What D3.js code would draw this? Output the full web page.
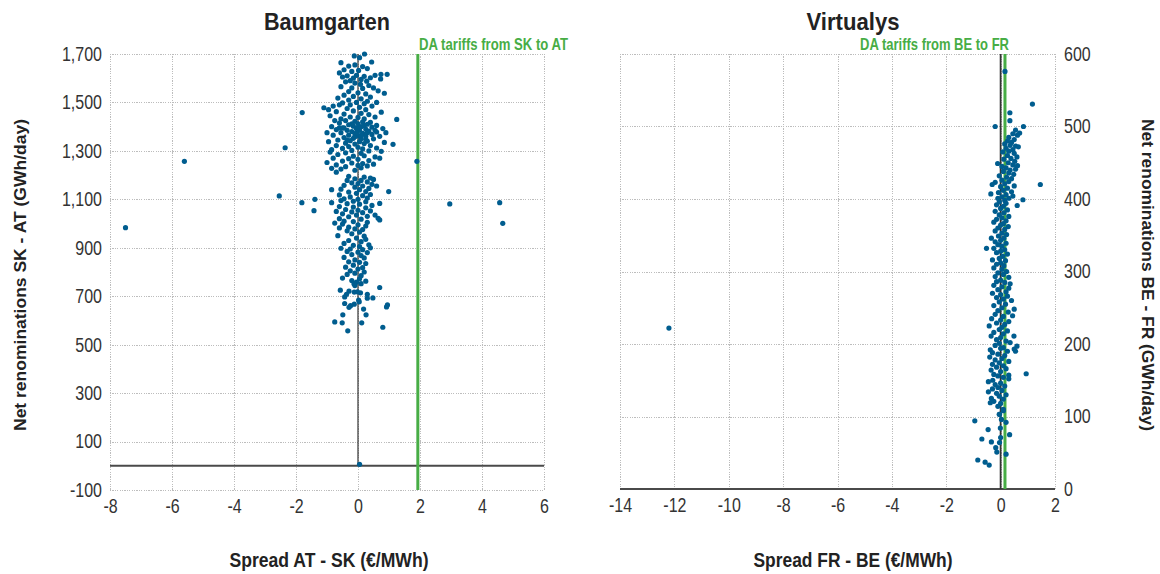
<!DOCTYPE html>
<html>
<head>
<meta charset="utf-8">
<script src="https://cdn.jsdelivr.net/npm/d3@7/dist/d3.min.js"></script>
<style>
  html, body { margin: 0; padding: 0; background: #fff; }
  svg { display: block; }
</style>
</head>
<body>
<svg id="chart" width="1160" height="574"></svg>
<script>
// ---- Baumgarten: spread AT - SK (€/MWh) vs net renominations SK - AT (GWh/day)
const baumgartenTitle = "Baumgarten";
const baumgartenXTitle = "Spread AT - SK (€/MWh)";
const baumgartenYTitle = "Net renominations SK - AT (GWh/day)";
const baumgartenTariffLabel = "DA tariffs from SK to AT";
const baumgartenTariff = 1.93;
const baumgartenXTicks = [-8, -6, -4, -2, 0, 2, 4, 6];
const baumgartenYTicks = [-100, 100, 300, 500, 700, 900, 1100, 1300, 1500, 1700];
const baumgartenPoints = [
  // outliers
  [-7.5,983],[-5.6,1257],[-2.35,1313],[-2.54,1114],[-1.8,1458],[-1.81,1086],[-1.39,1100],[-1.42,1053],
  [1.9,1257],[2.96,1081],[4.57,1086],[4.67,1001],[1.13,1327],[0.05,6],
  // 1600 - 1700
  [-0.12,1692],[0.21,1700],[0.05,1685],[-0.55,1664],[0.44,1667],[-0.3,1650],[-0.1,1655],[0.15,1648],
  [0.3,1640],[-0.45,1635],[-0.2,1628],[0.02,1632],[-0.6,1622],[0.74,1616],[0.94,1616],[0.73,1597],
  [-0.35,1610],[-0.05,1612],[0.2,1608],[0.4,1602],[-0.15,1600],[0.1,1595],[-0.5,1605],[0.55,1612],
  [-0.25,1590],[0.28,1588],
  // 1500 - 1600
  [-0.4,1585],[-0.1,1580],[0.08,1575],[0.35,1570],[-0.55,1565],[-0.2,1560],[0.15,1558],[0.5,1560],
  [0.65,1548],[-0.3,1545],[0.0,1540],[0.25,1535],[-0.45,1530],[0.85,1538],[-0.15,1525],[0.4,1522],
  [-0.65,1518],[0.1,1515],[-0.3,1510],[0.3,1505],[-0.05,1500],[0.6,1500],[-0.5,1498],[0.2,1495],
  [-0.25,1490],
  // 1430 - 1500
  [-1.1,1478],[-0.8,1485],[-0.6,1490],[-0.95,1470],[0.45,1485],[0.05,1480],[-0.35,1475],[0.25,1470],
  [-0.7,1462],[-0.15,1465],[0.75,1460],[0.1,1455],[-0.45,1452],[0.35,1450],[-0.9,1445],[-0.25,1440],
  [0.55,1440],[0.0,1438],[1.25,1430],[-0.55,1432],[0.2,1432],
  // 1300 - 1430
  [-0.75,1425],[-0.4,1425],[-0.1,1422],[0.15,1420],[0.4,1418],[-0.6,1415],[0.0,1412],[0.3,1410],
  [-0.3,1408],[0.6,1405],[-0.85,1400],[-0.15,1402],[0.1,1400],[0.45,1398],[-0.5,1395],[-0.05,1392],
  [0.25,1390],[0.8,1392],[-0.7,1388],[-0.35,1385],[0.05,1385],[0.35,1382],[-0.2,1380],[0.6,1378],
  [0.9,1375],[-1.0,1375],[-0.55,1375],[0.15,1372],[-0.1,1370],[0.45,1368],[-0.8,1365],[-0.3,1365],
  [0.0,1362],[0.25,1360],[0.7,1360],[-0.45,1355],[-0.15,1352],[0.1,1350],[0.5,1350],[-0.65,1345],
  [-0.25,1342],[0.3,1340],[-0.95,1338],[0.05,1338],[0.85,1335],[-0.4,1332],[0.2,1330],[-0.1,1328],
  [-0.7,1322],[0.4,1322],[-0.3,1318],[0.0,1315],[0.6,1312],[-0.5,1310],[0.15,1308],[-0.85,1305],
  [-0.2,1302],[0.35,1300],[0.75,1298],[-0.2,1412],[0.2,1405],[-0.45,1395],[0.3,1375],[-0.1,1358],
  [0.55,1385],[-0.6,1395],[0.1,1365],[-0.35,1345],[0.25,1348],[0.0,1395],[-0.05,1375],
  // 1200 - 1300
  [-0.9,1295],[-0.4,1292],[0.1,1290],[-0.65,1285],[0.2,1280],[-0.15,1278],[0.55,1275],[-0.8,1270],
  [-0.3,1268],[0.0,1265],[0.7,1270],[-0.5,1258],[0.35,1260],[-1.0,1252],[-0.2,1250],[0.15,1248],
  [0.5,1245],[-0.7,1242],[0.0,1240],[-0.4,1235],[0.3,1238],[-0.85,1228],[-0.55,1225],[0.1,1230],
  [-0.1,1220],[-0.7,1212],
  // 1100 - 1200
  [-0.3,1195],[0.2,1192],[0.4,1188],[-0.1,1185],[0.5,1182],[-0.35,1178],[0.1,1178],[0.3,1172],
  [-0.2,1168],[0.0,1165],[0.45,1162],[-0.45,1158],[0.15,1155],[0.6,1155],[-0.1,1150],[0.35,1145],
  [-0.55,1142],[-0.85,1140],[0.05,1140],[0.25,1132],[-0.3,1130],[0.99,1132],[-0.05,1125],[0.4,1120],
  [-0.6,1118],[0.15,1115],[-0.25,1110],[0.3,1105],[-0.45,1102],[0.0,1100],
  // 1000 - 1100
  [-0.55,1095],[-0.15,1092],[0.25,1090],[-0.85,1086],[0.7,1083],[-0.35,1082],[0.05,1080],[0.45,1075],
  [-0.6,1070],[-0.15,1068],[0.25,1065],[-0.4,1058],[0.0,1055],[0.4,1052],[-0.7,1050],[-0.2,1048],
  [0.15,1045],[-0.5,1040],[0.55,1035],[-0.05,1035],[0.3,1030],[-0.3,1028],[0.65,1022],[0.7,1015],
  [-0.6,1020],[0.1,1018],[-0.45,1010],[-0.15,1008],[0.3,1005],[-0.75,1002],
  // 900 - 1000
  [-0.5,998],[0.0,995],[0.25,990],[-0.3,985],[-0.6,982],[-0.1,978],[0.15,975],[-0.35,970],
  [0.05,965],[-0.2,958],[-0.65,950],[0.2,948],[-0.05,940],[0.25,935],[-0.3,930],[0.1,925],
  [-0.45,918],[0.35,912],[-0.15,910],[0.05,905],[0.4,900],[-0.55,898],[-0.25,895],[0.15,892],
  // 750 - 900
  [-0.35,885],[0.0,882],[0.3,880],[-0.2,872],[0.1,868],[-0.45,860],[0.2,858],[-0.1,850],
  [-0.3,842],[0.05,840],[0.25,835],[-0.15,828],[-0.4,820],[0.15,818],[0.0,812],[-0.25,805],
  [0.2,800],[-0.1,795],[-0.35,790],[0.1,785],[-0.5,775],[0.05,772],[-0.2,765],[0.25,762],[-0.05,758],
  // 550 - 750
  [-0.13,752],[-0.1,744],[0.1,752],[0.7,736],[-0.57,725],[-0.29,721],[-0.12,717],[-0.02,718],
  [0.08,714],[0.3,708],[-0.37,708],[-0.43,697],[0.3,692],[0.48,693],[0.02,684],[0.04,677],
  [-0.43,670],[-0.12,667],[-0.24,661],[-0.29,654],[0.95,664],[0.92,656],[0.18,647],[-0.49,623],
  [0.26,623],[-0.75,594],[-0.51,590],[0.12,590],[0.8,572],[-0.33,557]
];

// ---- Virtualys: spread FR - BE (€/MWh) vs net renominations BE - FR (GWh/day)
const virtualysTitle = "Virtualys";
const virtualysXTitle = "Spread FR - BE (€/MWh)";
const virtualysYTitle = "Net renominations BE - FR (GWh/day)";
const virtualysTariffLabel = "DA tariffs from BE to FR";
const virtualysTariff = 0.16;
const virtualysXTicks = [-14, -12, -10, -8, -6, -4, -2, 0, 2];
const virtualysYTicks = [0, 100, 200, 300, 400, 500, 600];
const virtualysPoints = [
  [-12.2,222],
  // 500 - 600
  [0.16,576],[1.17,531],[0.34,519],[0.34,508],[-0.2,500],[0.84,500],
  // 440 - 500
  [0.7,491],[0.55,495],[0.62,488],[0.45,490],[0.3,485],[0.5,482],[0.25,480],[0.4,478],
  [0.15,476],[0.35,474],[0.55,473],[0.65,472],[0.2,470],[0.45,468],[0.3,466],[0.08,465],
  [0.5,463],[0.25,460],[0.6,458],[0.38,456],[0.12,455],[0.52,452],[0.28,450],[-0.11,449],
  [0.45,447],[0.62,446],[0.05,445],[0.2,443],[0.55,441],[0.35,440],
  // 400 - 440
  [0.1,438],[0.3,436],[0.48,434],[-0.05,432],[0.22,430],[0.4,428],[0.05,426],[-0.2,423],
  [0.3,424],[0.15,421],[-0.31,420],[1.46,420],[0.5,418],[0.0,417],[0.25,415],[0.1,412],
  [0.4,410],[-0.08,409],[-0.36,407],[0.2,406],[0.45,404],[0.05,403],[-0.1,401],[0.3,401],
  [0.82,399],[0.15,398],
  // 340 - 400
  [0.61,391],[-0.05,396],[0.2,394],[-0.15,392],[0.1,390],[0.0,387],[0.25,385],[-0.2,383],
  [0.12,381],[-0.05,378],[0.3,376],[0.05,374],[-0.15,372],[0.2,370],[-0.25,368],[0.1,366],
  [0.0,364],[0.28,362],[-0.1,360],[0.15,358],[-0.2,356],[0.05,353],[0.22,351],[-0.08,349],
  [-0.34,346],[0.12,346],[0.0,343],[-0.2,341],
  // 290 - 340
  [0.2,339],[-0.1,337],[0.05,335],[-0.52,332],[-0.25,332],[0.15,330],[0.0,328],[-0.15,326],
  [0.25,324],[0.08,321],[-0.05,318],[-0.3,316],[0.18,315],[0.0,312],[-0.15,310],[0.12,308],
  [-0.25,305],[0.05,303],[0.22,300],[-0.1,298],[0.1,296],[-0.2,293],[0.3,292],
  // 200 - 290
  [0.0,288],[-0.15,286],[0.15,285],[0.35,283],[-0.25,281],[0.05,279],[0.3,277],[-0.1,275],
  [0.2,272],[-0.3,270],[0.0,268],[0.25,266],[-0.15,264],[0.1,262],[0.4,260],[-0.05,258],
  [0.18,255],[-0.25,253],[0.5,248],[0.05,250],[0.44,239],[-0.1,246],[0.28,244],[-0.2,241],
  [0.1,238],[-0.33,235],[0.0,233],[0.3,231],[-0.15,229],[0.15,227],[-0.42,225],[0.05,223],
  [-0.05,220],[0.25,218],[-0.25,216],[0.1,214],[0.49,211],[-0.35,211],[0.0,209],[-0.15,206],
  [0.2,204],[0.35,202],[-0.05,201],[0.6,197],[0.5,193],[-0.38,192],[0.1,195],[0.55,190],
  // 120 - 200
  [-0.2,198],[0.0,194],[0.25,190],[-0.3,188],[-0.1,186],[0.15,184],[-0.4,182],[0.05,180],
  [-0.2,178],[0.3,176],[-0.05,174],[-0.3,172],[0.1,170],[-0.15,168],[0.2,166],[-0.35,164],
  [0.0,162],[0.94,159],[0.3,157],[-0.25,158],[-0.1,156],[0.3,152],[0.1,154],[-0.29,150],
  [-0.45,148],[0.0,146],[-0.2,144],[0.15,142],[-0.1,140],[-0.3,138],[0.05,136],[-0.45,134],
  [-0.15,132],[0.2,130],[-0.05,128],[-0.34,125],[0.1,124],[-0.25,121],[-0.38,119],[0.0,118],
  // 30 - 120
  [-0.1,114],[0.1,110],[0.1,108],[-0.04,103],[-0.05,103],[0.03,96],[-0.95,94],[0.2,92],
  [-0.01,84],[-0.46,82],[0.33,75],[0.0,71],[-0.69,69],[-0.34,65],[-0.04,64],[-0.18,57],
  [-0.14,51],[0.2,48],[-0.84,40],[-0.57,37],[-0.42,33]
];

const dotColor = "#005d8f";
const tariffColor = "#47ad45";
const gridColor = "#bdbdbd";
const tickColor = "#333";
const titleColor = "#222";
const baseFont = '"Liberation Sans", Arial, sans-serif';

const fmt = v => d3.format(",")(v).replace("\u2212", "-");

const svg = d3.select("#chart");

// condense text horizontally (narrow face look) by a factor, or to a fixed width
function condense(sel, factor, width) {
  sel.each(function () {
    const w = width != null ? width : this.getComputedTextLength() * factor;
    d3.select(this).attr("textLength", w).attr("lengthAdjust", "spacingAndGlyphs");
  });
}

function drawPanel(cfg) {
  const x = d3.scaleLinear().domain(cfg.xDomain).range(cfg.xRange);
  const y = d3.scaleLinear().domain(cfg.yDomain).range(cfg.yRange);
  const g = svg.append("g");
  const [x0, x1] = cfg.xRange;
  const [y0, y1] = cfg.yRange; // y0 bottom, y1 top

  // dotted gridlines
  const grid = g.append("g").attr("stroke", gridColor).attr("stroke-width", 1)
    .attr("stroke-dasharray", "1.2,1.2").attr("shape-rendering", "crispEdges");
  grid.selectAll("line.v").data(cfg.xTicks).join("line")
    .attr("x1", d => Math.round(x(d)) + 0.5).attr("x2", d => Math.round(x(d)) + 0.5)
    .attr("y1", y1).attr("y2", y0);
  grid.selectAll("line.h").data(cfg.yTicks).join("line")
    .attr("x1", x0).attr("x2", x1)
    .attr("y1", d => Math.round(y(d)) + 0.5).attr("y2", d => Math.round(y(d)) + 0.5);

  // zero axes
  g.append("line")
    .attr("x1", x0).attr("x2", x1).attr("y1", y(0)).attr("y2", y(0))
    .attr("stroke", "#4a4a4a").attr("stroke-width", 2);
  g.append("line")
    .attr("x1", x(0)).attr("x2", x(0)).attr("y1", y(0)).attr("y2", y1)
    .attr("stroke", "#333").attr("stroke-width", cfg.zeroWidth);

  // tariff line
  g.append("line")
    .attr("x1", x(cfg.tariff)).attr("x2", x(cfg.tariff))
    .attr("y1", y0).attr("y2", y1)
    .attr("stroke", tariffColor).attr("stroke-width", 3);

  // points
  g.append("g").selectAll("circle").data(cfg.points).join("circle")
    .attr("cx", d => x(d[0])).attr("cy", d => y(d[1])).attr("r", 2.6)
    .attr("fill", dotColor);

  // axes (labels only)
  const xAxis = g.append("g").attr("transform", `translate(0,${y0})`)
    .call(d3.axisBottom(x).tickValues(cfg.xTicks).tickFormat(fmt).tickSize(0).tickPadding(9));
  const yAxisGen = cfg.yRight
    ? d3.axisRight(y).tickValues(cfg.yTicks).tickFormat(fmt).tickSize(0).tickPadding(9)
    : d3.axisLeft(y).tickValues(cfg.yTicks).tickFormat(fmt).tickSize(0).tickPadding(8);
  const yAxis = g.append("g").attr("transform", `translate(${cfg.yRight ? x1 : x0},0)`).call(yAxisGen);
  [xAxis, yAxis].forEach(a => {
    a.select(".domain").remove();
    a.selectAll("text").attr("font-family", baseFont).attr("font-size", 20).attr("fill", tickColor)
      .call(condense, 0.8);
  });

  // titles
  g.append("text").text(cfg.title)
    .attr("x", cfg.titleX).attr("y", 30).attr("text-anchor", "middle")
    .attr("font-family", baseFont).attr("font-weight", "bold").attr("font-size", 24)
    .attr("fill", titleColor).call(condense, null, cfg.titleW);
  g.append("text").text(cfg.tariffLabel)
    .attr("x", cfg.tariffLabelX).attr("y", 50).attr("text-anchor", cfg.tariffAnchor)
    .attr("font-family", baseFont).attr("font-weight", "bold").attr("font-size", 17)
    .attr("fill", tariffColor).call(condense, null, 149);
  g.append("text").text(cfg.xTitle)
    .attr("x", cfg.xTitleX).attr("y", 567).attr("text-anchor", "middle")
    .attr("font-family", baseFont).attr("font-weight", "bold").attr("font-size", 20)
    .attr("fill", titleColor).call(condense, null, 199);
  g.append("text").text(cfg.yTitle)
    .attr("transform", `translate(${cfg.yTitleX},275) rotate(${cfg.yRight ? 90 : -90})`)
    .attr("text-anchor", "middle").attr("dy", "0.35em")
    .attr("font-family", baseFont).attr("font-weight", "bold").attr("font-size", 17)
    .attr("fill", titleColor).call(condense, null, 312);
}

drawPanel({
  xDomain: [-8, 6], xRange: [110, 544],
  yDomain: [-100, 1700], yRange: [490, 54],
  xTicks: baumgartenXTicks, yTicks: baumgartenYTicks,
  points: baumgartenPoints, tariff: baumgartenTariff, zeroWidth: 1.2,
  title: baumgartenTitle, titleX: 327, titleW: 126,
  tariffLabel: baumgartenTariffLabel, tariffLabelX: 419, tariffAnchor: "start",
  xTitle: baumgartenXTitle, xTitleX: 329,
  yTitle: baumgartenYTitle, yTitleX: 20, yRight: false
});

drawPanel({
  xDomain: [-14, 2], xRange: [620, 1055],
  yDomain: [0, 600], yRange: [489, 54],
  xTicks: virtualysXTicks, yTicks: virtualysYTicks,
  points: virtualysPoints, tariff: virtualysTariff, zeroWidth: 1.8,
  title: virtualysTitle, titleX: 853, titleW: 93,
  tariffLabel: virtualysTariffLabel, tariffLabelX: 1009, tariffAnchor: "end",
  xTitle: virtualysXTitle, xTitleX: 853,
  yTitle: virtualysYTitle, yTitleX: 1148, yRight: true
});
</script>
</body>
</html>
